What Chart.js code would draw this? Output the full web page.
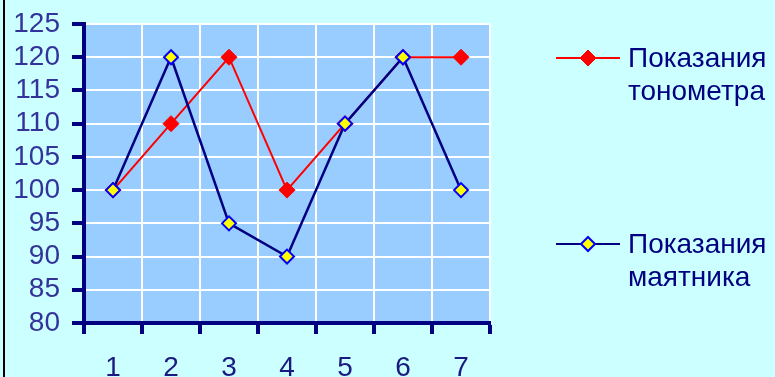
<!DOCTYPE html>
<html>
<head>
<meta charset="utf-8">
<script src="https://cdn.jsdelivr.net/npm/chart.js@4/dist/chart.umd.min.js"></script>
<style>
  html, body { margin: 0; padding: 0; background: #ccffff; }
  #wrap { position: relative; width: 775px; height: 377px; overflow: hidden; background: #ccffff; }
  #frame { position: absolute; left: 3px; top: 0; width: 2px; height: 377px; background: #000; }
  canvas { position: absolute; left: 0; top: 0; }
  .leg { position: absolute; font-family: "Liberation Sans", Arial, sans-serif; font-size: 28px; line-height: 33px; color: #000080; }
  .leg svg { position: absolute; }
  .leg .txt { position: absolute; left: 72px; top: 0; white-space: nowrap; }
</style>
</head>
<body>
<div id="wrap">
  <canvas id="chart" width="775" height="377"></canvas>
  <div id="frame"></div>
</div>
<script>
// Measurement number (x axis)
const categories = ['1', '2', '3', '4', '5', '6', '7'];
// Tonometer readings
const tonometer = [100, 110, 120, 100, 110, 120, 120];
// Pendulum readings
const pendulum = [100, 120, 95, 90, 110, 120, 100];
// Legend captions (two lines each)
const seriesNames = [['Показания', 'тонометра'], ['Показания', 'маятника']];

const NAVY = '#000080';
const FONT = '"Liberation Sans", Arial, sans-serif';

const plotBackground = {
  id: 'plotBackground',
  beforeDraw(chart) {
    const { ctx, chartArea: a } = chart;
    ctx.save();
    ctx.fillStyle = '#99ccff';
    ctx.fillRect(a.left, a.top, a.right - a.left, a.bottom - a.top);
    ctx.restore();
  }
};

const datasets = [
  {
    label: seriesNames[0].join(' '),
    data: tonometer,
    order: 1,
    borderColor: '#ff0000',
    borderWidth: 2,
    pointStyle: 'rectRot',
    pointRadius: 8,
    pointHoverRadius: 8,
    pointBackgroundColor: '#ff0000',
    pointBorderColor: '#ff0000',
    pointBorderWidth: 1,
    tension: 0
  },
  {
    label: seriesNames[1].join(' '),
    data: pendulum,
    order: 0,
    borderColor: NAVY,
    borderWidth: 2.5,
    pointStyle: 'rectRot',
    pointRadius: 7,
    pointHoverRadius: 7,
    pointBackgroundColor: '#ffff00',
    pointBorderColor: '#0000ff',
    pointBorderWidth: 2,
    tension: 0
  }
];

const chart = new Chart(document.getElementById('chart'), {
  type: 'line',
  data: { labels: categories, datasets },
  plugins: [plotBackground],
  options: {
    responsive: false,
    animation: false,
    devicePixelRatio: 1,
    layout: { padding: { left: 0, right: 285, top: 24, bottom: 0 } },
    plugins: { legend: { display: false }, tooltip: { enabled: false } },
    scales: {
      x: {
        type: 'category',
        offset: true,
        afterFit(s) { s.height = 54; s.paddingLeft = 0; s.paddingRight = 0; },
        grid: {
          offset: true,
          color: '#ffffff',
          lineWidth: 2,
          tickColor: NAVY,
          tickWidth: 4,
          tickLength: 11
        },
        border: { color: NAVY, width: 4 },
        ticks: {
          color: '#1a1a80',
          padding: 17,
          autoSkip: false,
          maxRotation: 0,
          font: { family: FONT, size: 28 }
        }
      },
      y: {
        min: 80,
        max: 125,
        afterFit(s) { s.width = 84; s.paddingTop = 0; s.paddingBottom = 0; },
        grid: {
          color: '#ffffff',
          lineWidth: 2,
          tickColor: NAVY,
          tickWidth: 4,
          tickLength: 12
        },
        border: { color: NAVY, width: 4 },
        ticks: {
          stepSize: 5,
          autoSkip: false,
          color: '#333399',
          padding: 12,
          font: { family: FONT, size: 28 }
        }
      }
    }
  }
});

// Legend entries: line sample with the series marker, caption on the right
const legendTops = [41, 227];
datasets.forEach((ds, i) => {
  const box = document.createElement('div');
  box.className = 'leg';
  box.style.left = '556px';
  box.style.top = legendTops[i] + 'px';
  const r = ds.pointRadius;
  box.innerHTML =
    '<svg width="66" height="33" style="left:0;top:0">' +
    '<line x1="0" y1="17" x2="64" y2="17" stroke="' + ds.borderColor + '" stroke-width="2"/>' +
    '<polygon points="' + [[32, 17 - r], [32 + r, 17], [32, 17 + r], [32 - r, 17]].map(p => p.join(',')).join(' ') +
    '" fill="' + ds.pointBackgroundColor + '" stroke="' + ds.pointBorderColor + '" stroke-width="' + ds.pointBorderWidth + '"/>' +
    '</svg>' +
    '<div class="txt">' + seriesNames[i].join('<br>') + '</div>';
  document.getElementById('wrap').appendChild(box);
});
</script>
</body>
</html>
